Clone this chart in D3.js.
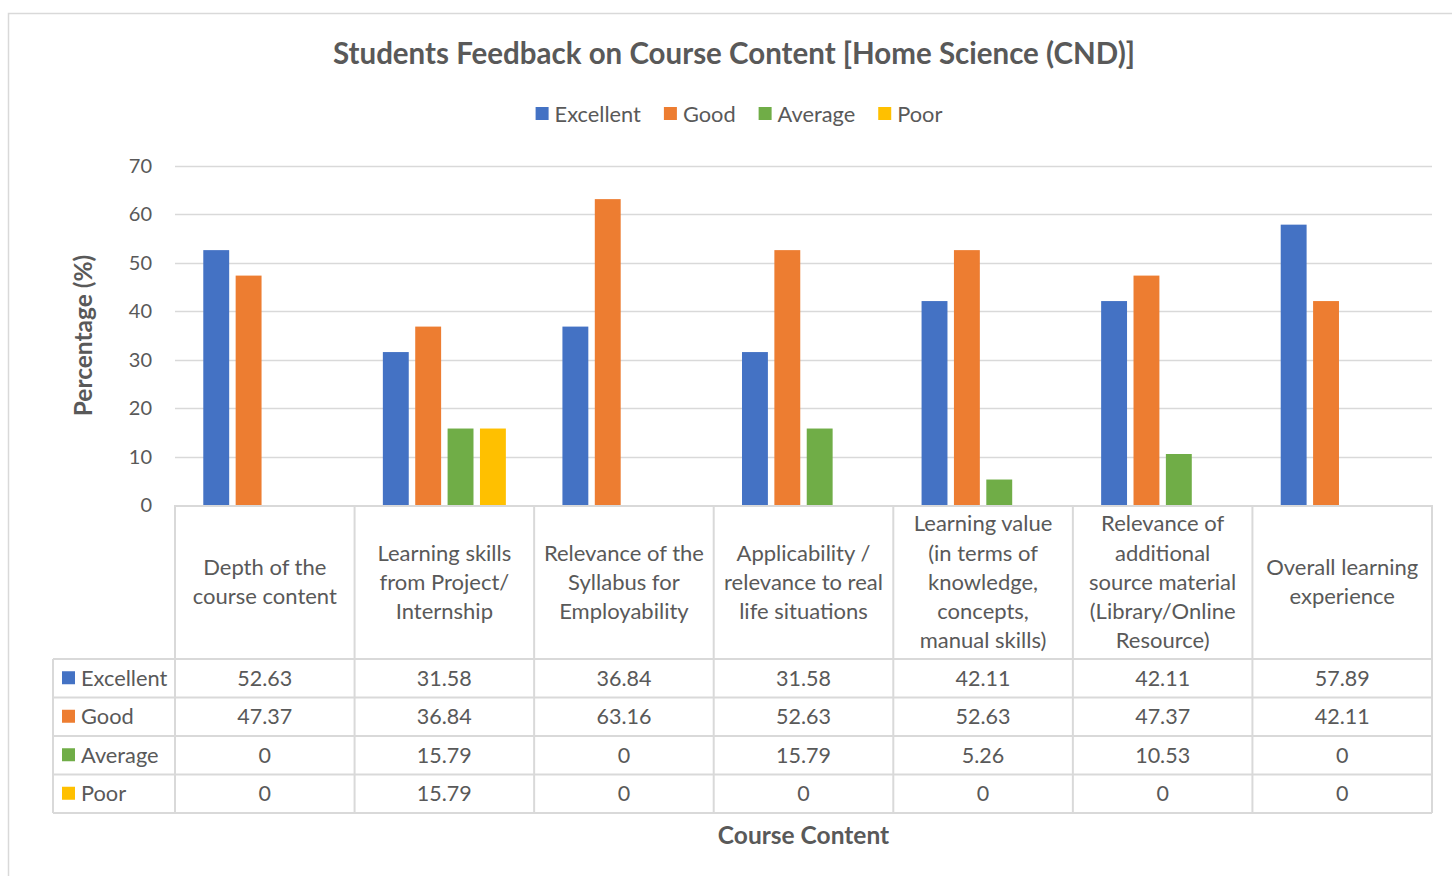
<!DOCTYPE html>
<html>
<head>
<meta charset="utf-8">
<script src="https://cdn.jsdelivr.net/npm/d3@7"></script>
<style>
    body { margin: 0; background: #fff; }
    text { font-family: Lato, "Open Sans", sans-serif; fill: #595959; }
</style>
</head>
<body>
<script>
// Chart data
var categories = [
    ["Depth of the", "course content"],
    ["Learning skills", "from Project/", "Internship"],
    ["Relevance of the", "Syllabus for", "Employability"],
    ["Applicability /", "relevance to real", "life situations"],
    ["Learning value", "(in terms of", "knowledge,", "concepts,", "manual skills)"],
    ["Relevance of", "additional", "source material", "(Library/Online", "Resource)"],
    ["Overall learning", "experience"]
];
var seriesNames = ["Excellent", "Good", "Average", "Poor"];
var excellent = [52.63, 31.58, 36.84, 31.58, 42.11, 42.11, 57.89];
var good = [47.37, 36.84, 63.16, 52.63, 52.63, 47.37, 42.11];
var average = [0, 15.79, 0, 15.79, 5.26, 10.53, 0];
var poor = [0, 15.79, 0, 0, 0, 0, 0];
var yTicks = [0, 10, 20, 30, 40, 50, 60, 70];

var colors = ["#4472C4", "#ED7D31", "#70AD47", "#FFC000"];
var series = [excellent, good, average, poor];

var W = 1452, H = 876;
var plotLeft = 175, plotRight = 1432, plotTop = 166, plotBottom = 505;
var rowH = 38.5, headerBottom = 659, tableLeft = 53;

var svg = d3.select("body").append("svg")
    .attr("width", W)
    .attr("height", H);

// chart frame
svg.append("rect")
    .attr("x", 8.5).attr("y", 13.5)
    .attr("width", 1470).attr("height", 900)
    .attr("fill", "none")
    .attr("stroke", "#d9d9d9")
    .attr("stroke-width", 1.5);

var idx = d3.range(categories.length);

var x0 = d3.scaleBand()
    .domain(idx)
    .range([plotLeft, plotRight])
    .paddingInner(0.315)
    .paddingOuter(0.1575);

var x1 = d3.scaleBand()
    .domain(d3.range(seriesNames.length))
    .range([0, x0.bandwidth()])
    .paddingInner(0.2);

var y = d3.scaleLinear()
    .domain([0, 70])
    .range([plotBottom, plotTop]);

// gridlines
svg.append("g")
    .selectAll("line")
    .data(yTicks.slice(1))
    .enter().append("line")
    .attr("x1", plotLeft).attr("x2", plotRight)
    .attr("y1", function(d) { return Math.round(y(d)) + 0.5; })
    .attr("y2", function(d) { return Math.round(y(d)) + 0.5; })
    .attr("stroke", "#d9d9d9")
    .attr("stroke-width", 1.3);

// y tick labels
svg.append("g")
    .selectAll("text")
    .data(yTicks)
    .enter().append("text")
    .attr("x", 152)
    .attr("y", function(d) { return y(d); })
    .attr("dy", "0.35em")
    .attr("text-anchor", "end")
    .style("font-size", "20px")
    .text(function(d) { return d; });

// bars
var groups = svg.append("g")
    .selectAll("g")
    .data(idx)
    .enter().append("g")
    .attr("transform", function(i) { return "translate(" + x0(i) + ",0)"; });

groups.selectAll("rect")
    .data(function(i) {
        return series.map(function(s, k) { return {k: k, v: s[i]}; });
    })
    .enter().append("rect")
    .attr("x", function(d) { return x1(d.k); })
    .attr("y", function(d) { return y(d.v); })
    .attr("width", x1.bandwidth())
    .attr("height", function(d) { return y(0) - y(d.v); })
    .attr("fill", function(d) { return colors[d.k]; });

// data table
var step = (plotRight - plotLeft) / categories.length;
var colEdges = d3.range(categories.length + 1).map(function(i) {
    return plotLeft + i * step;
});
var tableBottom = headerBottom + rowH * seriesNames.length;
var grid = svg.append("g")
    .attr("stroke", "#d9d9d9")
    .attr("stroke-width", 2);

// axis line / header top
grid.append("line")
    .attr("x1", plotLeft).attr("x2", plotRight)
    .attr("y1", plotBottom + 1).attr("y2", plotBottom + 1);
colEdges.forEach(function(cx) {
    grid.append("line")
        .attr("x1", cx).attr("x2", cx)
        .attr("y1", plotBottom).attr("y2", tableBottom);
});
d3.range(seriesNames.length + 1).forEach(function(r) {
    var ry = headerBottom + r * rowH;
    grid.append("line")
        .attr("x1", tableLeft).attr("x2", plotRight)
        .attr("y1", ry).attr("y2", ry);
});
grid.append("line")
    .attr("x1", tableLeft).attr("x2", tableLeft)
    .attr("y1", headerBottom).attr("y2", tableBottom);

// category headers
var headerMid = (plotBottom + headerBottom) / 2;
categories.forEach(function(lines, i) {
    var cx = colEdges[i] + step / 2;
    var t = svg.append("text")
        .attr("text-anchor", "middle")
        .style("font-size", "22px");
    lines.forEach(function(l, j) {
        t.append("tspan")
            .attr("x", cx)
            .attr("y", headerMid + (j - (lines.length - 1) / 2) * 29.2)
            .attr("dy", "0.35em")
            .text(l);
    });
});

// table rows
seriesNames.forEach(function(name, k) {
    var ry = headerBottom + k * rowH + rowH / 2;
    svg.append("rect")
        .attr("x", 62).attr("y", ry - 7)
        .attr("width", 13).attr("height", 13)
        .attr("fill", colors[k]);
    svg.append("text")
        .attr("x", 81).attr("y", ry)
        .attr("dy", "0.35em")
        .style("font-size", "21.8px")
        .text(name);
    series[k].forEach(function(v, i) {
        svg.append("text")
            .attr("x", colEdges[i] + step / 2)
            .attr("y", ry)
            .attr("dy", "0.35em")
            .attr("text-anchor", "middle")
            .style("font-size", "21.5px")
            .text(v);
    });
});

// title
svg.append("text")
    .attr("x", 734).attr("y", 54)
    .attr("dy", "0.35em")
    .attr("text-anchor", "middle")
    .style("font-size", "29.5px")
    .style("font-weight", "bold")
    .text("Students Feedback on Course Content [Home Science (CND)]");

// legend
var legend = svg.append("g");
var lx = 0;
seriesNames.forEach(function(name, k) {
    var item = legend.append("g").attr("transform", "translate(" + lx + ",0)");
    item.append("rect")
        .attr("x", 0).attr("y", -7)
        .attr("width", 13).attr("height", 13)
        .attr("fill", colors[k]);
    var t = item.append("text")
        .attr("x", 19)
        .attr("dy", "0.35em")
        .style("font-size", "21.8px")
        .text(name);
    lx += 19 + t.node().getComputedTextLength() + 23;
});
var legendW = lx - 23;
legend.attr("transform", "translate(" + (739 - legendW / 2) + ",114)");

// axis titles
svg.append("text")
    .attr("transform", "translate(83," + ((plotTop + plotBottom) / 2) + ") rotate(-90)")
    .attr("dy", "0.35em")
    .attr("text-anchor", "middle")
    .style("font-size", "24.5px")
    .style("font-weight", "bold")
    .text("Percentage (%)");

svg.append("text")
    .attr("x", (plotLeft + plotRight) / 2).attr("y", 835)
    .attr("dy", "0.35em")
    .attr("text-anchor", "middle")
    .style("font-size", "24.5px")
    .style("font-weight", "bold")
    .text("Course Content");
</script>
</body>
</html>
